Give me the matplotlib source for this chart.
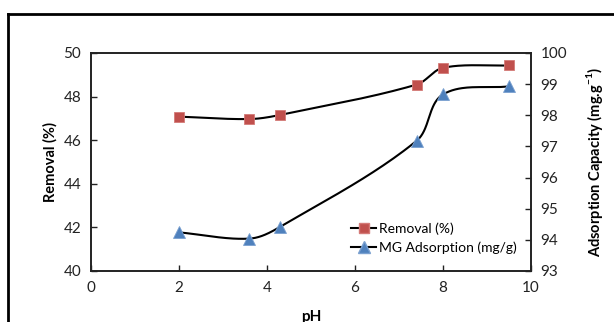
import numpy as np
import matplotlib
matplotlib.use("Agg")
import matplotlib.pyplot as plt
from matplotlib.lines import Line2D

plt.rcParams['font.family'] = ['Lato', 'DejaVu Sans']
plt.rcParams['mathtext.fontset'] = 'custom'
plt.rcParams['mathtext.rm'] = 'Lato'
plt.rcParams['mathtext.bf'] = 'Lato:bold'

ph = [2, 3.6, 4.3, 7.4, 8.0, 9.5]
removal = [47.08, 46.97, 47.16, 48.55, 49.32, 49.43]
adsorption = [94.24, 94.04, 94.42, 97.18, 98.67, 98.93]

red = '#C0504D'
blue = '#4F81BD'


def smooth(x, y, xlim, ylim, w, h, n=40):
    # excel-like smoothed line, bezier in screen space
    px = (np.array(x) - xlim[0]) / (xlim[1] - xlim[0]) * w
    py = (np.array(y) - ylim[0]) / (ylim[1] - ylim[0]) * h
    P = np.column_stack([px, py])
    P = np.vstack([P[0], P, P[-1]])
    out = []
    t = np.linspace(0, 1, n)[:, None]
    for i in range(1, len(P) - 2):
        p0, p3 = P[i], P[i + 1]
        L = np.linalg.norm(p3 - p0)
        d1 = P[i + 1] - P[i - 1]
        d2 = P[i + 2] - P[i]
        c1 = p0 + d1 / np.linalg.norm(d1) * L / 3
        c2 = p3 - d2 / np.linalg.norm(d2) * L / 3
        seg = ((1 - t) ** 3) * p0 + 3 * ((1 - t) ** 2) * t * c1 + 3 * (1 - t) * t ** 2 * c2 + t ** 3 * p3
        out.append(seg)
    out = np.vstack(out)
    sx = out[:, 0] / w * (xlim[1] - xlim[0]) + xlim[0]
    sy = out[:, 1] / h * (ylim[1] - ylim[0]) + ylim[0]
    return sx, sy


fig = plt.figure(figsize=(6.14, 3.22), dpi=100)
ax = fig.add_axes([91 / 614, 1 - 271 / 322, 440 / 614, 218 / 322])
ax2 = ax.twinx()

xlim = (0, 10)
ax.set_xlim(*xlim)
ax.set_ylim(40, 50)
ax2.set_ylim(93, 100)

sx, sy = smooth(ph, removal, xlim, (40, 50), 440, 218)
ax.plot(sx, sy, color='black', lw=1.5, zorder=2)
ax.plot(ph, removal, ls='none', marker='s', ms=7, mfc=red, mec='#d47a77', mew=0.6, zorder=3)

sx, sy = smooth(ph, adsorption, xlim, (93, 100), 440, 218)
ax2.plot(sx, sy, color='black', lw=1.5, zorder=2)
ax2.plot(ph, adsorption, ls='none', marker='^', ms=8, mfc=blue, mec='#7aa0d0', mew=0.6, zorder=3)

ax.set_xticks(range(0, 11, 2))
ax.set_yticks(range(40, 51, 2))
ax2.set_yticks(range(93, 101))

for a in (ax, ax2):
    a.tick_params(direction='in', length=4, width=1, labelsize=11, colors='#222222', pad=7)
    for s in a.spines.values():
        s.set_linewidth(1.2)
        s.set_color('#222222')

ax.set_xlabel('pH', fontsize=11, fontweight='bold', labelpad=11)
ax.set_ylabel('Removal (%)', fontsize=10.5, fontweight='bold', labelpad=4)
ax2.set_ylabel(r'Adsorption Capacity (mg.g$^{\mathbf{-1}}$)', fontsize=10.5, fontweight='bold', labelpad=12)

handles = [
    Line2D([], [], color='black', lw=1.5, marker='s', ms=7, mfc=red, mec='#d47a77'),
    Line2D([], [], color='black', lw=1.5, marker='^', ms=8, mfc=blue, mec='#7aa0d0'),
]
ax2.legend(handles, ['Removal (%)', 'MG Adsorption (mg/g)'], loc='lower right',
           bbox_to_anchor=(0.995, 0.02), frameon=False, fontsize=10,
           handlelength=1.8, handletextpad=0.15, labelspacing=0.5)

fig.add_artist(Line2D([8 / 614, 8 / 614], [0, 1 - 14 / 322], transform=fig.transFigure, color='black', lw=2))
fig.add_artist(Line2D([8 / 614, 1], [1 - 14 / 322, 1 - 14 / 322], transform=fig.transFigure, color='black', lw=2))

fig.savefig('out.png', dpi=100)
